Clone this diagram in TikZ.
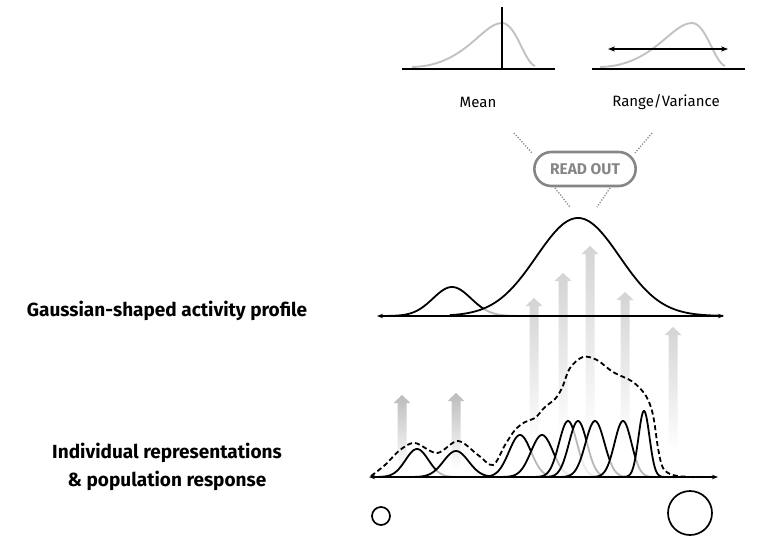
\documentclass[tikz,border=0pt]{standalone}
\usepackage{fontspec}
\setmainfont{Fira Sans}
\usepackage{xcolor}
\usepackage{tikz}
\usetikzlibrary{arrows.meta,calc,positioning,shapes.misc}
\definecolor{skewgray}{HTML}{C2C2C2}
\definecolor{readgray}{HTML}{868686}
\definecolor{dotgray}{HTML}{8C8C8C}
\definecolor{shadegray}{HTML}{BCBCBC}
\definecolor{shadelight}{HTML}{D4D4D4}
\tikzset{
  baseaxis/.style={black, line width=1.9pt},
  skewcurve/.style={skewgray, line width=1.9pt},
  tuning/.style={black, line width=1.8pt, fill=white, fill opacity=0.72},
  popline/.style={black, line width=1.8pt, dash pattern=on 5pt off 3pt},
  readbox/.style={rounded rectangle, draw=readgray, line width=2.6pt, text=readgray,
    minimum width=108pt, minimum height=34pt, font=\fontsize{15.5}{18}\selectfont\bfseries},
  readline/.style={dotgray, line width=1.4pt, dash pattern=on 1.2pt off 1.6pt},
  toplabel/.style={font=\fontsize{15}{18}\selectfont},
  sidelabel/.style={align=center, font=\fontsize{19}{28}\selectfont\bfseries},
  arrowshade/.style={top color=shadegray, bottom color=white},
  arrowlight/.style={top color=shadelight, bottom color=white},
  cell/.style={draw, line width=1.7pt, circle, inner sep=0pt}
}
% upward faded arrow: style, x, bottom y, top y
\newcommand{\fadearrow}[4]{%
  \path[#1] ({#2-4.5},{#3}) -- ({#2-4.5},{#4+8}) -- ({#2-8.5},{#4+8}) -- ({#2},{#4})
    -- ({#2+8.5},{#4+8}) -- ({#2+4.5},{#4+8}) -- ({#2+4.5},{#3}) -- cycle;}

\begin{document}
\begin{tikzpicture}[x=1pt, y=-1pt]
  \useasboundingbox (0,0) rectangle (762,546);

  % read-out measures
  \draw[skewcurve] (412,67) .. controls (465,66) and (482,23) .. (502,23)
    .. controls (516,23) and (524,62) .. (535,66);
  \draw[baseaxis] (402,69) -- (555,69);
  \draw[baseaxis] (502,7) -- (502,69);
  \draw[skewcurve] (600,67) .. controls (653,66) and (671,23) .. (692,23)
    .. controls (706,23) and (714,62) .. (725,66);
  \draw[baseaxis] (592,69) -- (745,69);
  \draw[black, line width=1.9pt, {Stealth[length=7pt]}-{Stealth[length=7pt]}] (608,49) -- (728,49);
  \node[toplabel] (meanlbl) at (478,102) {Mean};
  \node[toplabel] (rangelbl) at (666,102) {Range/Variance};

  \node[readbox] (readout) at (585,169) {READ OUT};
  \coordinate (ulA) at (514,133);
  \coordinate (ulB) at (532,153);
  \coordinate (urA) at (652,133);
  \coordinate (urB) at (635,153);
  \coordinate (llA) at (555,188);
  \coordinate (llB) at (570,207);
  \coordinate (lrA) at (610,188);
  \coordinate (lrB) at (597,207);
  \draw[readline] (ulA) -- (ulB);
  \draw[readline] (urA) -- (urB);
  \draw[readline] (llA) -- (llB);
  \draw[readline] (lrA) -- (lrB);

  % activity profile
  \draw[tuning] plot[domain=382:515, samples=80] (\x, {316-29*exp(-((\x-452)/19)^2/2)});
  \draw[tuning] plot[domain=450:723, samples=120] (\x, {316-98*exp(-((\x-578)/41.6)^2/2)});
  \draw[baseaxis, {Stealth[length=6pt]}-{Stealth[length=6pt]}] (377,316) -- (724,316);

  % individual tuning curves
  \foreach \m/\h/\s in {417/28/11.5, 456/26/12.5, 520/42/11, 542/42/11, 568/56/9,
                        578/56/9, 595/56/9.5, 623/56/8.5, 644/66/5.5}{
    \pgfmathsetmacro{\lo}{\m-3.6*\s}
    \pgfmathsetmacro{\hi}{\m+3.6*\s}
    \draw[tuning] plot[domain=\lo:\hi, samples=60] (\x, {477-\h*exp(-((\x-\m)/\s)^2/2)});
  }
  \draw[popline] plot[smooth, tension=0.55] coordinates {(371,476) (385,465) (400,450)
    (415,443) (437,453) (458,441) (478,455) (493,465) (505,445) (515,430) (525,422)
    (535,418) (545,407) (555,399) (562,388) (570,368) (583,357) (597,360) (613,372)
    (633,382) (646,396) (653,415) (658,448) (663,468) (673,475) (690,477) (700,477)};
  \draw[black, line width=1.6pt, {Stealth[length=6pt]}-{Stealth[length=6pt]}] (369,477) -- (718,477);

  % readout arrows
  \begin{scope}[blend mode=multiply]
    \fadearrow{arrowshade}{402}{468}{395}
    \fadearrow{arrowshade}{456}{468}{393}
    \fadearrow{arrowlight}{534}{445}{298}
    \fadearrow{arrowlight}{563}{440}{273}
    \fadearrow{arrowlight}{590}{440}{246}
    \fadearrow{arrowlight}{625}{445}{292}
    \fadearrow{arrowlight}{673}{450}{327}
  \end{scope}

  \node[cell, minimum size=18pt] (small) at (381,516) {};
  \node[cell, minimum size=44pt] (large) at (690,513) {};

  \node[sidelabel] (gausslbl) at (167,311) {Gaussian-shaped activity profile};
  \node[sidelabel] (indivlbl) at (167,467) {Individual representations\\\& population response};
\end{tikzpicture}
\end{document}
